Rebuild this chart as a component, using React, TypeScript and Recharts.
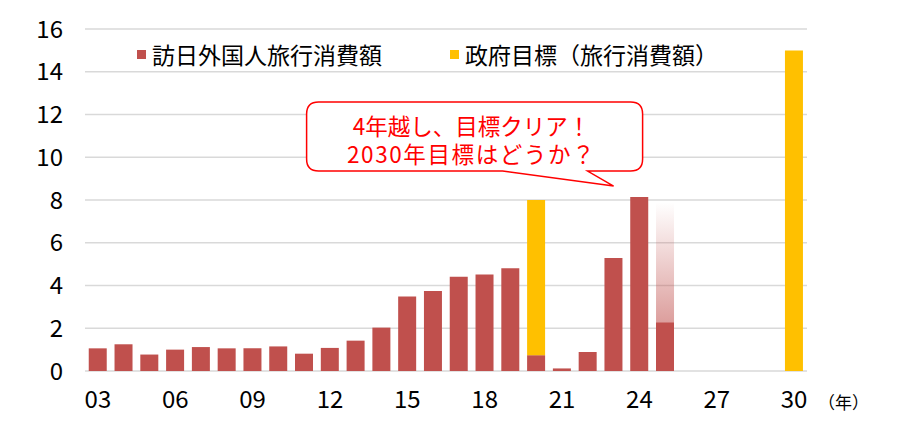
import React from 'react';
import {
  BarChart,
  Bar,
  XAxis,
  YAxis,
  CartesianGrid,
  Legend,
  ReferenceDot,
  Label,
} from 'recharts';

// ---- data ----
const years = [
  '03', '04', '05', '06', '07', '08', '09', '10', '11', '12',
  '13', '14', '15', '16', '17', '18', '19', '20', '21', '22',
  '23', '24', '25', '26', '27', '28', '29', '30',
];
// 訪日外国人旅行消費額 (兆円)
const actualValues: (number | null)[] = [
  1.06, 1.25, 0.77, 1.0, 1.12, 1.06, 1.06, 1.15, 0.81, 1.08,
  1.42, 2.03, 3.48, 3.74, 4.41, 4.52, 4.81, 0.74, 0.12, 0.89,
  5.29, 8.14, 2.28, null, null, null, null, null,
];
// 政府目標（旅行消費額）
const targetValues: (number | null)[] = [
  null, null, null, null, null, null, null, null, null, null,
  null, null, null, null, null, null, null, 8, null, null,
  null, null, null, null, null, null, null, 15,
];
// 2025 見込み（グラデーション部分の上端）
const projectionValues: (number | null)[] = [
  null, null, null, null, null, null, null, null, null, null,
  null, null, null, null, null, null, null, null, null, null,
  null, null, 7.9, null, null, null, null, null,
];
const yTicks = [0, 2, 4, 6, 8, 10, 12, 14, 16];
const seriesNames = {
  actual: '訪日外国人旅行消費額',
  target: '政府目標（旅行消費額）',
};
const calloutLines = ['4年越し、目標クリア！', '2030年目標はどうか？'];
const calloutAnchor = { x: '23', y: 8.65 };

const RED = '#C0504D';
const YELLOW = '#FFC000';
const FONT = '"Noto Sans CJK JP", "Noto Sans", sans-serif';

// stacked table: target / projection are drawn on top of the actual value
const data = years.map((y, i) => {
  const a = actualValues[i] ?? 0;
  const t = targetValues[i];
  const p = projectionValues[i];
  return {
    year: y,
    actual: actualValues[i],
    targetRest: t == null ? null : t - a,
    projectionRest: p == null ? null : p - a,
  };
});

const legendItems = [
  { name: seriesNames.actual, color: RED },
  { name: seriesNames.target, color: YELLOW },
];

const LegendContent = () => (
  <div style={{ display: 'flex', alignItems: 'center', fontFamily: FONT, fontSize: 23, lineHeight: '28px', color: '#000', whiteSpace: 'nowrap' }}>
    {legendItems.map((it, i) => (
      <div key={i} style={{ display: 'flex', alignItems: 'center', width: i === 0 ? 313 : 'auto' }}>
        <span style={{ display: 'inline-block', width: 9, height: 9, background: it.color, marginRight: 6 }} />
        <span>{it.name}</span>
      </div>
    ))}
  </div>
);

const Callout = (props: any) => {
  const { cx, cy } = props;
  if (cx == null || cy == null) return null;
  const L = cx - 307;
  const R = cx + 29;
  const T = cy - 84;
  const B = cy - 15;
  const r = 12;
  const p1 = cx - 111;
  const p2 = cx - 26;
  const d = [
    `M ${L + r} ${T}`,
    `H ${R - r}`,
    `Q ${R} ${T} ${R} ${T + r}`,
    `V ${B - r}`,
    `Q ${R} ${B} ${R - r} ${B}`,
    `H ${p2}`,
    `L ${cx} ${cy}`,
    `L ${p1} ${B}`,
    `H ${L + r}`,
    `Q ${L} ${B} ${L} ${B - r}`,
    `V ${T + r}`,
    `Q ${L} ${T} ${L + r} ${T}`,
    'Z',
  ].join(' ');
  const tx = cx - 142;
  return (
    <g>
      <path d={d} fill="#fff" stroke="#FF0000" strokeWidth={1.5} />
      <text textAnchor="middle" fill="#FF0000" fontSize={22.5} fontFamily={FONT}>
        <tspan x={tx} y={cy - 51}>{calloutLines[0]}</tspan>
        <tspan x={tx} y={cy - 23} letterSpacing={1.6}>{calloutLines[1]}</tspan>
      </text>
    </g>
  );
};

const UnitLabel = (props: any) => {
  const vb = props.viewBox || {};
  const x = (vb.x ?? 0) + (vb.width ?? 0) + 11;
  const y = 401;
  return (
    <text x={x} y={y} dominantBaseline="central" fontSize={17} fontFamily={FONT} fill="#000">
      （年）
    </text>
  );
};

export default function App() {
  return (
    <div style={{ position: 'absolute', left: 0, top: 0, width: 900, height: 426, background: '#fff' }}>
      <BarChart
        width={900}
        height={426}
        data={data}
        margin={{ top: 29, right: 93, left: 15, bottom: 15 }}
        barCategoryGap="14.5%"
      >
        <defs>
          <linearGradient id="projGrad" x1="0" y1="0" x2="0" y2="1">
            <stop offset="0%" stopColor={RED} stopOpacity={0} />
            <stop offset="100%" stopColor={RED} stopOpacity={0.55} />
          </linearGradient>
        </defs>
        <CartesianGrid vertical={false} stroke="#d9d9d9" strokeWidth={1.5} />
        <XAxis
          dataKey="year"
          interval={2}
          axisLine={false}
          tickLine={false}
          tickSize={0}
          tickMargin={20}
          height={40}
          tick={{ fontSize: 24, fill: '#000', fontFamily: FONT }}
        >
          <Label content={<UnitLabel />} />
        </XAxis>
        <YAxis
          domain={[0, 16]}
          ticks={yTicks}
          interval={0}
          axisLine={false}
          tickLine={false}
          tickSize={0}
          tickMargin={22}
          width={70}
          tick={{ fontSize: 24, fill: '#000', fontFamily: FONT }}
        />
        <Legend
          layout="vertical"
          align="center"
          verticalAlign="middle"
          wrapperStyle={{ top: 40, left: 137, width: 'auto' }}
          content={<LegendContent />}
        />
        <Bar dataKey="actual" stackId="s" name={seriesNames.actual} fill={RED} isAnimationActive={false} />
        <Bar dataKey="targetRest" stackId="s" name={seriesNames.target} fill={YELLOW} isAnimationActive={false} />
        <Bar dataKey="projectionRest" stackId="s" fill="url(#projGrad)" legendType="none" isAnimationActive={false} />
        <ReferenceDot
          x={calloutAnchor.x}
          y={calloutAnchor.y}
          ifOverflow="visible"
          shape={<Callout />}
        />
      </BarChart>
    </div>
  );
}
